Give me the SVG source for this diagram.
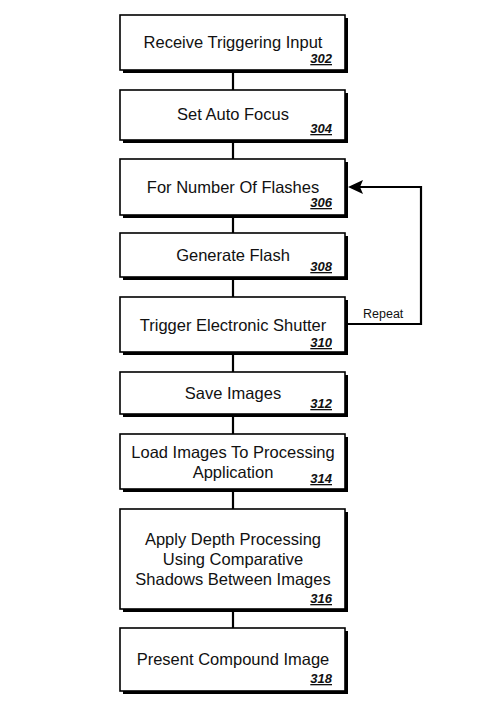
<svg xmlns="http://www.w3.org/2000/svg" width="490" height="712" viewBox="0 0 490 712">
<style>
.sh{fill:#000}
.bx{fill:#fff;stroke:#000;stroke-width:1.6}
.t{font-family:"Liberation Sans",Arial,sans-serif;font-size:16.5px;fill:#111;text-anchor:middle}
.n{font-family:"Liberation Sans",Arial,sans-serif;font-size:13px;font-weight:bold;font-style:italic;text-decoration:underline;fill:#111;text-anchor:end}
.c{stroke:#000;stroke-width:2.2;fill:none}
.r{font-family:"Liberation Sans",Arial,sans-serif;font-size:12.5px;fill:#111}
</style>
<defs>
<marker id="ah" markerWidth="14" markerHeight="13" refX="13" refY="6.5" orient="auto" markerUnits="userSpaceOnUse">
<path d="M0,0 L13,6.5 L0,13 L3,6.5 Z" fill="#000" transform="translate(13,13) rotate(180)"/>
</marker>
</defs>
<rect width="490" height="712" fill="#fff"/>
<g id="connectors">
<line class="c" x1="233" y1="70" x2="233" y2="90"/>
<line class="c" x1="233" y1="140" x2="233" y2="159"/>
<line class="c" x1="233" y1="215" x2="233" y2="233"/>
<line class="c" x1="233" y1="277" x2="233" y2="297"/>
<line class="c" x1="233" y1="352" x2="233" y2="372"/>
<line class="c" x1="233" y1="414" x2="233" y2="434"/>
<line class="c" x1="233" y1="489" x2="233" y2="509"/>
<line class="c" x1="233" y1="609" x2="233" y2="628"/>
<polyline class="c" points="346,324 421,324 421,187 360,187"/>
<path d="M348,187 L363,180 L360,187 L363,194 Z" fill="#000"/>
<text class="r" x="363" y="318">Repeat</text>
</g>
<g id="n302"><rect class="sh" x="123" y="18" width="225" height="55"/><rect class="bx" x="120" y="15" width="225" height="55"/>
<text class="t" x="233" y="48">Receive Triggering Input</text><text class="n" x="332" y="63">302</text></g>
<g id="n304"><rect class="sh" x="123" y="93" width="225" height="50"/><rect class="bx" x="120" y="90" width="225" height="50"/>
<text class="t" x="233" y="120">Set Auto Focus</text><text class="n" x="332" y="133">304</text></g>
<g id="n306"><rect class="sh" x="123" y="162" width="225" height="56"/><rect class="bx" x="120" y="159" width="225" height="56"/>
<text class="t" x="233" y="193">For Number Of Flashes</text><text class="n" x="332" y="207">306</text></g>
<g id="n308"><rect class="sh" x="123" y="236" width="225" height="44"/><rect class="bx" x="120" y="233" width="225" height="44"/>
<text class="t" x="233" y="261">Generate Flash</text><text class="n" x="332" y="271">308</text></g>
<g id="n310"><rect class="sh" x="123" y="300" width="225" height="55"/><rect class="bx" x="120" y="297" width="225" height="55"/>
<text class="t" x="233" y="331">Trigger Electronic Shutter</text><text class="n" x="332" y="347">310</text></g>
<g id="n312"><rect class="sh" x="123" y="375" width="225" height="42"/><rect class="bx" x="120" y="372" width="225" height="42"/>
<text class="t" x="233" y="399">Save Images</text><text class="n" x="332" y="408">312</text></g>
<g id="n314"><rect class="sh" x="123" y="437" width="225" height="55"/><rect class="bx" x="120" y="434" width="225" height="55"/>
<text class="t" x="233" y="458">Load Images To Processing</text><text class="t" x="233" y="478">Application</text><text class="n" x="332" y="483">314</text></g>
<g id="n316"><rect class="sh" x="123" y="512" width="225" height="100"/><rect class="bx" x="120" y="509" width="225" height="100"/>
<text class="t" x="233" y="545">Apply Depth Processing</text><text class="t" x="233" y="565">Using Comparative</text><text class="t" x="233" y="585">Shadows Between Images</text><text class="n" x="332" y="603">316</text></g>
<g id="n318"><rect class="sh" x="123" y="631" width="225" height="63"/><rect class="bx" x="120" y="628" width="225" height="63"/>
<text class="t" x="233" y="665">Present Compound Image</text><text class="n" x="332" y="683">318</text></g>
</svg>
